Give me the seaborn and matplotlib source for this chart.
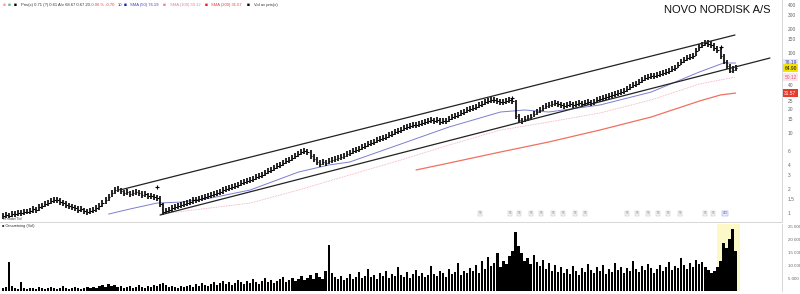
import numpy as np
import matplotlib
matplotlib.use("Agg")
import matplotlib.pyplot as plt
import seaborn as sns

# ---------------- data (monthly bars) ----------------
closes = [0.917,0.944,0.917,0.97,0.97,1.00,1.00,1.03,1.03,1.06,
1.12,1.09,1.19,1.22,1.30,1.33,1.41,1.45,1.45,1.37,
1.33,1.26,1.22,1.19,1.15,1.09,1.12,1.06,1.03,1.06,
1.09,1.15,1.22,1.33,1.45,1.58,1.78,1.94,2.00,1.88,
1.78,1.83,1.73,1.78,1.83,1.78,1.68,1.73,1.63,1.63,
1.58,1.54,1.30,1.03,1.06,1.09,1.15,1.19,1.22,1.26,
1.30,1.33,1.37,1.45,1.45,1.50,1.54,1.58,1.63,1.68,
1.73,1.78,1.83,1.94,2.00,2.05,2.11,2.18,2.24,2.37,
2.44,2.51,2.58,2.66,2.82,2.90,2.99,3.16,3.35,3.45,
3.65,3.87,3.98,4.22,4.47,4.60,4.87,5.16,5.46,5.79,
5.96,5.79,5.16,4.73,4.34,4.10,4.34,4.22,4.47,4.60,
4.73,4.87,5.01,5.16,5.46,5.62,5.96,6.13,6.31,6.68,
6.88,7.29,7.50,7.72,8.18,8.41,8.66,8.91,9.44,9.72,
10.3,10.6,10.9,11.5,11.9,12.2,12.6,12.6,12.96,13.3,
13.7,14.1,14.5,14.1,14.5,13.7,14.1,14.1,15.0,15.85,
16.3,16.8,17.8,18.3,19.4,19.95,20.5,21.1,22.4,23.0,
24.4,25.1,25.9,25.9,25.1,24.4,24.4,25.1,25.9,25.1,
16.3,14.5,14.1,15.0,15.4,15.85,17.3,18.3,19.4,20.5,
21.8,22.4,23.0,23.7,23.0,22.4,21.8,22.4,23.0,22.4,
23.0,23.7,23.0,23.7,24.4,23.7,24.4,25.9,26.6,27.4,
28.2,29.0,29.9,30.7,31.6,32.5,33.5,35.5,37.6,39.8,
41.0,43.4,46.0,48.7,50.1,51.6,51.6,53.1,54.6,56.2,
57.9,59.6,63.1,64.9,70.8,77.2,81.7,86.6,89.1,91.7,
105.9,118.9,125.9,133.4,129.6,125.9,115.5,109.0,91.7,77.2,
68.8,59.6,61.3,64.9]

highs = [1.00,1.02,1.01,1.05,1.06,1.09,1.08,1.12,1.13,1.16,
1.22,1.20,1.29,1.33,1.41,1.45,1.53,1.58,1.59,1.52,
1.46,1.40,1.34,1.30,1.27,1.21,1.22,1.17,1.13,1.16,
1.19,1.25,1.33,1.45,1.58,1.72,1.93,2.11,2.18,2.08,
1.96,1.99,1.91,1.94,1.99,1.96,1.86,1.88,1.80,1.78,
1.74,1.70,1.62,1.35,1.16,1.19,1.25,1.30,1.33,1.37,
1.42,1.45,1.49,1.58,1.58,1.63,1.68,1.72,1.78,1.83,
1.89,1.94,2.00,2.11,2.18,2.24,2.30,2.38,2.44,2.58,
2.66,2.74,2.81,2.90,3.07,3.16,3.26,3.44,3.65,3.76,
3.98,4.22,4.34,4.60,4.87,5.01,5.31,5.62,5.95,6.31,
6.50,6.40,6.05,5.40,4.95,4.60,4.73,4.65,4.87,5.01,
5.16,5.31,5.46,5.62,5.95,6.13,6.50,6.68,6.88,7.28,
7.50,7.95,8.18,8.41,8.92,9.17,9.44,9.71,10.3,10.6,
11.2,11.6,11.9,12.5,13.0,13.3,13.7,13.8,14.1,14.5,
14.9,15.4,15.8,15.5,15.8,15.3,15.4,15.4,16.4,17.3,
17.8,18.3,19.4,19.9,21.1,21.7,22.3,23.0,24.4,25.1,
26.6,27.4,28.2,28.3,27.6,26.8,26.6,27.4,28.2,27.7,
26.0,17.2,15.6,16.4,16.8,17.3,18.9,19.9,21.1,22.3,
23.8,24.4,25.1,25.8,25.3,24.6,24.0,24.4,25.1,24.6,
25.1,25.8,25.3,25.8,26.6,26.0,26.6,28.2,29.0,29.9,
30.7,31.6,32.6,33.5,34.4,35.4,36.5,38.7,41.0,43.4,
44.7,47.3,50.1,53.1,54.6,56.2,56.3,57.9,59.5,61.3,
63.1,65.0,68.8,70.7,77.2,84.1,89.1,94.4,97.1,100,
115,130,137,145,146,141,133,123,115,97,
82,73,68,71]

lows = [0.85,0.87,0.86,0.89,0.90,0.92,0.93,0.95,0.96,0.97,
1.01,1.00,1.07,1.12,1.18,1.22,1.28,1.33,1.34,1.26,
1.22,1.16,1.12,1.09,1.05,1.00,1.02,0.97,0.94,0.96,
1.00,1.04,1.10,1.19,1.30,1.42,1.58,1.74,1.83,1.72,
1.63,1.67,1.58,1.62,1.68,1.63,1.54,1.58,1.49,1.50,
1.45,1.41,1.20,0.95,0.97,1.00,1.04,1.09,1.12,1.15,
1.19,1.22,1.25,1.31,1.33,1.37,1.41,1.45,1.49,1.54,
1.58,1.63,1.67,1.75,1.83,1.88,1.93,1.99,2.05,2.15,
2.23,2.30,2.36,2.43,2.55,2.65,2.73,2.87,3.04,3.15,
3.32,3.51,3.63,3.84,4.07,4.20,4.43,4.70,4.97,5.27,
5.45,5.30,4.75,4.35,4.00,3.78,3.95,3.88,4.08,4.20,
4.32,4.45,4.58,4.71,4.97,5.13,5.43,5.60,5.77,6.08,
6.28,6.65,6.85,7.05,7.45,7.68,7.91,8.14,8.60,8.88,
9.40,9.68,9.95,10.5,10.9,11.1,11.5,11.6,11.8,12.1,
12.5,12.9,13.2,12.9,13.2,12.5,12.9,12.9,13.7,14.5,
14.9,15.3,16.2,16.7,17.7,18.2,18.7,19.3,20.4,21.0,
22.3,22.9,23.6,23.7,22.9,22.3,22.3,22.9,23.6,22.9,
15.0,13.3,12.9,13.7,14.1,14.5,15.8,16.7,17.7,18.7,
19.9,20.4,21.0,21.6,21.0,20.4,19.9,20.4,21.0,20.4,
21.0,21.6,21.0,21.6,22.3,21.6,22.3,23.6,24.3,25.0,
25.7,26.5,27.3,28.0,28.8,29.7,30.6,32.4,34.3,36.3,
37.4,39.6,42.0,44.4,45.7,47.1,47.1,48.5,49.8,51.3,
52.8,54.4,57.6,59.2,64.6,70.4,74.6,79.0,81.3,83.7,
92.0,106,115,122,118,115,105,99,85,72,
63,56,57,59]

volumes = [1160,1540,11170,1930,1160,770,3470,1160,770,1160,
1160,770,1540,1160,770,1160,1540,1160,770,1160,
1930,1160,770,1160,1540,1160,770,1160,1540,1160,
1540,1160,1930,2310,1540,2700,1930,2310,1540,1930,
1160,1540,1930,1160,1540,2310,1540,1160,1930,1540,
2310,1930,2700,3080,2310,1540,1930,1540,1160,1930,
1540,1930,2310,1540,2700,1930,3080,2310,1930,2700,
3470,2310,3080,3850,2700,3470,2310,3080,4240,3470,
2700,3850,3080,4620,3470,2700,3850,5010,3470,4240,
3080,3850,4620,5390,3470,4240,5010,3850,4620,5780,
4240,5010,6160,4620,6930,5390,4620,7700,17710,6930,
5390,4620,5780,4240,5010,6550,4620,5390,7320,5010,
5780,8470,5390,6160,4620,6930,5780,7700,5010,6550,
5780,9240,6160,5390,7320,5010,6550,8090,5780,6930,
5390,6160,9630,6550,5780,7700,6930,5390,8470,6550,
7320,10780,6160,7700,6930,8860,7700,10010,6930,11550,
8470,13090,9630,10780,14630,9240,11550,10400,13480,15400,
22720,17330,14630,11550,12710,10400,13860,11170,9630,11940,
8470,10780,7700,10010,7320,9240,6930,8470,6550,9630,
7700,6160,8860,7320,10400,8090,6930,9240,7700,10010,
6550,8470,7320,10780,8090,9240,6930,8860,7700,11550,
8470,7320,9630,8090,10400,8860,6930,8470,10010,7700,
9240,11170,8090,9630,8860,12710,10010,8470,10780,9240,
11940,10400,11170,9240,8090,6930,7700,9240,11550,18480,
16560,20020,23870,15400]

# moving averages (bar index, value)
sma50_idx = [35, 42, 51, 59, 69, 82, 98, 108, 115, 132, 148, 165, 173, 181, 198, 215, 231, 239, 243]
sma50_val = [0.97, 1.12, 1.33, 1.37, 1.54, 1.94, 3.25, 3.98, 4.34, 7.29, 11.9, 18.3, 19.4, 18.3, 22.4, 32.5, 57.9, 75.0, 75.0]
sma100_idx = [52, 82, 98, 115, 132, 148, 165, 181, 198, 215, 231, 243]
sma100_val = [0.97, 1.33, 1.94, 2.99, 4.60, 7.08, 10.9, 13.7, 17.8, 25.9, 41.0, 50.1]
sma200_idx = [137, 148, 165, 181, 198, 215, 231, 238, 243]
sma200_val = [3.45, 4.22, 5.79, 7.72, 10.9, 15.85, 25.1, 29.9, 31.6]

# trend channel lines
upper_idx = [38.8, 242.8]
upper_val = [1.94, 168.0]
lower_idx = [52.1, 254.4]
lower_val = [0.944, 86.6]

# signal markers
mark_idx = [51, 169, 238]
mark_val = [2.11, 27.4, 118.9]
event_idx = [158.2, 168.2, 171.1, 175.1, 178.4, 182.4, 185.7, 189.7, 193.0,
             207.0, 210.3, 213.9, 217.3, 220.6, 224.5, 232.8, 235.5]

price_ticks = [1, 1.5, 2, 3, 4, 6, 10, 15, 20, 25, 40, 100, 150, 200, 300, 400]
price_labels = ["1", "1.5", "2", "3", "4", "6", "10", "15", "20", "25", "40",
                "100", "150", "200", "300", "400"]
vol_ticks = [5000, 10000, 15000, 20000, 25000]
vol_labels = ["5 000", "10 000", "15 000", "20 000", "25 000"]

last_close = 64.90
sma50_last = 76.19
sma100_last = 50.12
sma200_last = 31.57
highlight_start, highlight_end = 236.8, 244.5

# ---------------- drawing ----------------
sns.set_theme(style="white")
plt.rcParams['font.family'] = ['Liberation Sans', 'DejaVu Sans']

fig = plt.figure(figsize=(8, 2.94), dpi=100)
ax = fig.add_axes([0, 72 / 294, 782 / 800, 222 / 294])
axv = fig.add_axes([0, 3 / 294, 782 / 800, 67 / 294])

idx = np.arange(len(closes))
ax.set_yscale('log')

sns.lineplot(x=sma100_idx, y=sma100_val, ax=ax, color='#f2a6b8', lw=0.6,
             linestyle=(0, (1, 1)), estimator=None, sort=False)
sns.lineplot(x=sma200_idx, y=sma200_val, ax=ax, color='#f07060', lw=0.9,
             estimator=None, sort=False)
sns.lineplot(x=sma50_idx, y=sma50_val, ax=ax, color='#7b7fd0', lw=0.7,
             estimator=None, sort=False)

ax.vlines(idx, lows, highs, color='black', lw=1.2)
ax.hlines(closes, idx, idx + 0.6, color='black', lw=0.8)

sns.lineplot(x=upper_idx, y=upper_val, ax=ax, color='#222222', lw=0.9,
             estimator=None, sort=False)
sns.lineplot(x=lower_idx, y=lower_val, ax=ax, color='#222222', lw=0.9,
             estimator=None, sort=False)
ax.plot(mark_idx, mark_val, '+', color='black', ms=3, mew=0.8)

ax.set_ylim(0.772, 460)
ax.set_xlim(-1, 258.4)
ax.yaxis.tick_right()
ax.set_yticks(price_ticks)
ax.set_yticklabels(price_labels)
ax.yaxis.set_minor_locator(matplotlib.ticker.NullLocator())
ax.tick_params(axis='y', labelsize=3.5, colors='#666666', length=0, pad=4)
ax.set_xticks([])
ax.set_xlabel('')
ax.set_ylabel('')
for s in ['top', 'left']:
    ax.spines[s].set_visible(False)
for s in ['right', 'bottom']:
    ax.spines[s].set_color('#d0d0d0')
    ax.spines[s].set_linewidth(0.6)

for e in event_idx:
    ax.text(e, 0.03, 'S', transform=ax.get_xaxis_transform(), fontsize=2.5,
            ha='center', va='bottom', color='#777777',
            bbox=dict(boxstyle='square,pad=0.2', fc='#f4f4f4', ec='#bbbbbb', lw=0.3))
ax.text(239.5, 0.03, '4/1', transform=ax.get_xaxis_transform(), fontsize=2.5,
        ha='center', va='bottom', color='#3344cc',
        bbox=dict(boxstyle='square,pad=0.2', fc='#eef0ff', ec='#8890dd', lw=0.3))

# right-side value labels
def side_label(val, text, fc, tc):
    ax.text(1.003, val, text, transform=ax.get_yaxis_transform(), fontsize=3.5,
            ha='left', va='center', color=tc, clip_on=False,
            bbox=dict(boxstyle='square,pad=0.25', fc=fc, ec='none'))

side_label(sma50_last, f"{sma50_last:.2f}", '#e4e6fb', '#3a3fb0')
side_label(last_close, f"{last_close:.2f}", '#f5e400', '#000000')
side_label(sma100_last, f"{sma100_last:.2f}", '#fde3ea', '#d06080')
side_label(sma200_last, f"{sma200_last:.2f}", '#e83a2a', '#ffffff')

# volume panel
axv.axvspan(highlight_start, highlight_end, color='#fdf8c8', lw=0)
axv.bar(idx, volumes, width=0.72, color='black', linewidth=0)
axv.set_xlim(-1, 258.4)
axv.set_ylim(0, 25800)
axv.yaxis.tick_right()
axv.set_yticks(vol_ticks)
axv.set_yticklabels(vol_labels)
axv.tick_params(axis='y', labelsize=3.2, colors='#666666', length=0, pad=4)
axv.set_xticks([])
for s in ['top', 'left', 'bottom']:
    axv.spines[s].set_visible(False)
axv.spines['right'].set_color('#d0d0d0')
axv.spines['right'].set_linewidth(0.6)

# texts
fig.text(0.9625, 0.966, "NOVO NORDISK A/S", ha='right', va='center',
         fontsize=8, color='#111111')
ly = 1 - 5 / 294
fig.text(0.003, ly, "\u25a0", fontsize=3.5, color='#f0a0b0', va='center')
fig.text(0.010, ly, "\u25a0", fontsize=3.5, color='#60c080', va='center')
fig.text(0.017, ly, "\u25a0", fontsize=3.5, color='black', va='center')
fig.text(0.026, ly, "Pris(x) 0.71 (?) 0.61 A/v 68.67 0.67 20", fontsize=3,
         color='#333333', va='center')
fig.text(0.112, ly, "-0.06 % -0.70", fontsize=3, color='#e04040', va='center')
fig.text(0.147, ly, "10", fontsize=3, color='#333333', va='center')
fig.text(0.155, ly, "\u25a0", fontsize=3.5, color='#2020c0', va='center')
fig.text(0.163, ly, "SMA (50) 76.19", fontsize=3, color='#4040c0', va='center')
fig.text(0.204, ly, "\u25a0", fontsize=3.5, color='#f080a0', va='center')
fig.text(0.212, ly, "SMA (100) 50.12", fontsize=3, color='#e080a0', va='center')
fig.text(0.256, ly, "\u25a0", fontsize=3.5, color='#e02020', va='center')
fig.text(0.264, ly, "SMA (200) 31.57", fontsize=3, color='#e04040', va='center')
fig.text(0.309, ly, "\u25a0", fontsize=3.5, color='black', va='center')
fig.text(0.317, ly, "Vol av pris(x)", fontsize=3, color='#333333', va='center')

fig.text(0.003, 1 - 219 / 294, "Periode/Tid", fontsize=2.8, color='#444444', va='center')
fig.text(0.003, 1 - 226 / 294, "\u25a0 Omsætning (Vol)", fontsize=2.8, color='#333333',
         va='center')

fig.savefig("out.png", dpi=100)
